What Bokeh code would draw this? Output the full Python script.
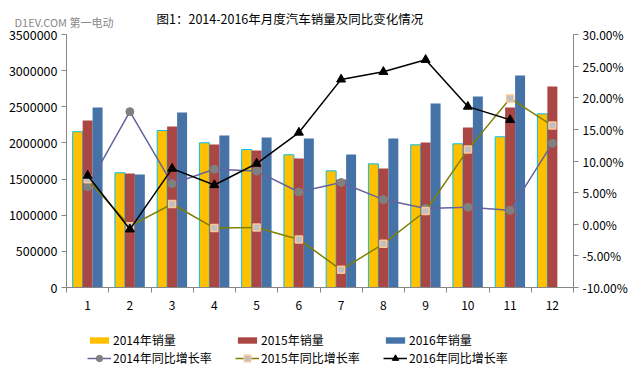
from bokeh.plotting import figure
from bokeh.models import (Range1d, LinearAxis, FixedTicker, NumeralTickFormatter,
                          Label, Legend, LegendItem, ColumnDataSource)
from bokeh.transform import dodge
from bokeh.embed import file_html
from bokeh.resources import INLINE

months = [1, 2, 3, 4, 5, 6, 7, 8, 9, 10, 11, 12]
month_labels = ["1", "2", "3", "4", "5", "6", "7", "8", "9", "10", "11", "12"]
sales_2014 = [2155000, 1587000, 2172000, 2002000, 1909000, 1836000,
              1614000, 1711000, 1974000, 1988000, 2085000, 2403000]
sales_2015 = [2310000, 1577000, 2227000, 1978000, 1895000, 1785000,
              1494000, 1646000, 2006000, 2213000, 2490000, 2781000]
sales_2016 = [2490000, 1563000, 2421000, 2103000, 2075000, 2061000,
              1840000, 2061000, 2545000, 2642000, 2933000]
yoy_2014 = [0.059, 0.178, 0.064, 0.087, 0.084, 0.051,
            0.066, 0.039, 0.025, 0.027, 0.022, 0.128]
yoy_2015 = [0.071, -0.003, 0.032, -0.006, -0.005, -0.024,
            -0.072, -0.031, 0.021, 0.118, 0.199, 0.156]
yoy_2016 = [0.077, -0.008, 0.088, 0.062, 0.096, 0.145,
            0.229, 0.241, 0.260, 0.186, 0.165]
left_ticks = [0, 500000, 1000000, 1500000, 2000000, 2500000, 3000000, 3500000]
right_ticks = [-0.10, -0.05, 0.0, 0.05, 0.10, 0.15, 0.20, 0.25, 0.30]

title_text = "图1：2014-2016年月度汽车销量及同比变化情况"
watermark_text = "D1EV.COM 第一电动"
series_names = ["2014年销量", "2015年销量", "2016年销量",
                "2014年同比增长率", "2015年同比增长率", "2016年同比增长率"]

FONT = "Noto Sans CJK SC"
AXIS_COLOR = "#868686"

# The frame covers the whole canvas; the axes are anchored at the edges of the
# plotting region (x: 66..573 px, y: 34..287 px) and bounded to their spans.
W, H = 643, 375
LEFT_PX, RIGHT_PX = 66, 573
TOP_PX, BASE_PX = 34, 287
X0, X1 = months[0] - 0.5, months[-1] + 0.5
xu = (X1 - X0) / (RIGHT_PX - LEFT_PX)
L0, L1 = left_ticks[0], left_ticks[-1]
R0, R1 = right_ticks[0], right_ticks[-1]
lu = (L1 - L0) / (BASE_PX - TOP_PX)
ru = (R1 - R0) / (BASE_PX - TOP_PX)

src14 = ColumnDataSource(dict(m=months, s=sales_2014, r=yoy_2014))
src15 = ColumnDataSource(dict(m=months, s=sales_2015, r=yoy_2015))
src16 = ColumnDataSource(dict(m=months[:len(sales_2016)], s=sales_2016, r=yoy_2016))

p = figure(width=W, height=H, output_backend="svg", toolbar_location=None,
           x_range=Range1d(X0 - LEFT_PX * xu, X1 + (W - RIGHT_PX) * xu),
           y_range=Range1d(L0 - (H - BASE_PX) * lu, L0 + BASE_PX * lu),
           min_border_left=0, min_border_right=0, min_border_top=0,
           min_border_bottom=0)
p.extra_y_ranges = {"pct": Range1d(R0 - (H - BASE_PX) * ru, R0 + BASE_PX * ru)}
p.outline_line_color = None
p.grid.visible = False
p.background_fill_color = "white"

bw = 0.236
b14 = p.vbar(x=dodge("m", -bw, range=p.x_range), top="s", width=bw, source=src14,
             fill_color="#FFC000", line_color=None)
p.vbar(x=dodge("m", -bw, range=p.x_range), top="s", width=bw, source=src14,
       fill_color=None, line_color="#00C0F0", line_width=1)
b15 = p.vbar(x="m", top="s", width=bw, source=src15,
             fill_color="#AA4643", line_color=None)
b16 = p.vbar(x=dodge("m", bw, range=p.x_range), top="s", width=bw, source=src16,
             fill_color="#4572A7", line_color=None)

l14 = p.line("m", "r", source=src14, y_range_name="pct", line_color="#6464A0", line_width=1.5)
m14 = p.scatter("m", "r", source=src14, y_range_name="pct", marker="circle", size=8,
                fill_color="#808080", line_color="#808080")
l15 = p.line("m", "r", source=src15, y_range_name="pct", line_color="#808000", line_width=1.5)
m15 = p.scatter("m", "r", source=src15, y_range_name="pct", marker="square", size=7,
                fill_color="#C0C0C0", line_color="#F8C898", line_width=1.5)
l16 = p.line("m", "r", source=src16, y_range_name="pct", line_color="black", line_width=1.5)
m16 = p.scatter("m", "r", source=src16, y_range_name="pct", marker="triangle", size=9,
                fill_color="black", line_color="black")

# axes
xa = p.xaxis[0]
xa.fixed_location = L0
xa.bounds = (X0, X1)
xa.ticker = FixedTicker(ticks=months, minor_ticks=[m - 0.5 for m in months] + [X1])
xa.major_label_overrides = {m: lab for m, lab in zip(months, month_labels)}
xa.major_tick_out = 0
xa.major_tick_in = 0
xa.minor_tick_out = 5
xa.minor_tick_in = 0
xa.major_label_standoff = 8

ya = p.yaxis[0]
ya.fixed_location = X0
ya.ticker = FixedTicker(ticks=left_ticks)
ya.formatter = NumeralTickFormatter(format="0")
ya.bounds = (L0, L1)
ya.major_tick_out = 5
ya.major_tick_in = 0
ya.minor_tick_line_color = None
ya.major_label_standoff = 4

ra = LinearAxis(y_range_name="pct", fixed_location=X1)
ra.ticker = FixedTicker(ticks=right_ticks)
ra.formatter = NumeralTickFormatter(format="0.00%")
ra.bounds = (R0, R1)
ra.major_tick_out = 5
ra.major_tick_in = 0
ra.minor_tick_line_color = None
ra.major_label_standoff = 4
p.add_layout(ra, "right")

for ax in [xa, ya, ra]:
    ax.axis_line_color = AXIS_COLOR
    ax.major_tick_line_color = AXIS_COLOR
    ax.major_label_text_font = FONT
    ax.major_label_text_font_size = "12px"
    ax.major_label_text_color = "black"
xa.minor_tick_line_color = AXIS_COLOR
ya.major_label_text_font_size = "12.5px"


def make_legend(items, glyph_h, loc):
    lg = Legend(items=items, orientation="horizontal", location=loc)
    lg.border_line_color = None
    lg.background_fill_alpha = 0
    lg.padding = 0
    lg.margin = 0
    lg.spacing = 0
    lg.glyph_width = 24
    lg.glyph_height = glyph_h
    lg.label_standoff = 2
    lg.label_width = 122
    lg.label_height = 16
    lg.label_text_font = FONT
    lg.label_text_font_size = "12px"
    lg.label_text_color = "black"
    return lg


legend_bars = make_legend([
    LegendItem(label=series_names[0], renderers=[b14]),
    LegendItem(label=series_names[1], renderers=[b15]),
    LegendItem(label=series_names[2], renderers=[b16]),
], 8, (87, 27))
legend_lines = make_legend([
    LegendItem(label=series_names[3], renderers=[l14, m14]),
    LegendItem(label=series_names[4], renderers=[l15, m15]),
    LegendItem(label=series_names[5], renderers=[l16, m16]),
], 16, (87, 9))
p.add_layout(legend_bars, "center")
p.add_layout(legend_lines, "center")

# title and watermark, above the value axes
p.add_layout(Label(x=X0 + (156 - LEFT_PX) * xu, y=L0 + (BASE_PX - 18) * lu, text=title_text,
                   text_baseline="middle", text_font=FONT, text_font_size="12.5px",
                   text_color="black"))
p.add_layout(Label(x=X0 + (14 - LEFT_PX) * xu, y=L0 + (BASE_PX - 21) * lu, text=watermark_text,
                   text_baseline="middle", text_font=FONT, text_font_size="11px",
                   text_color="#8A8A8A"))

open("out.html", "w").write(file_html(p, INLINE))
